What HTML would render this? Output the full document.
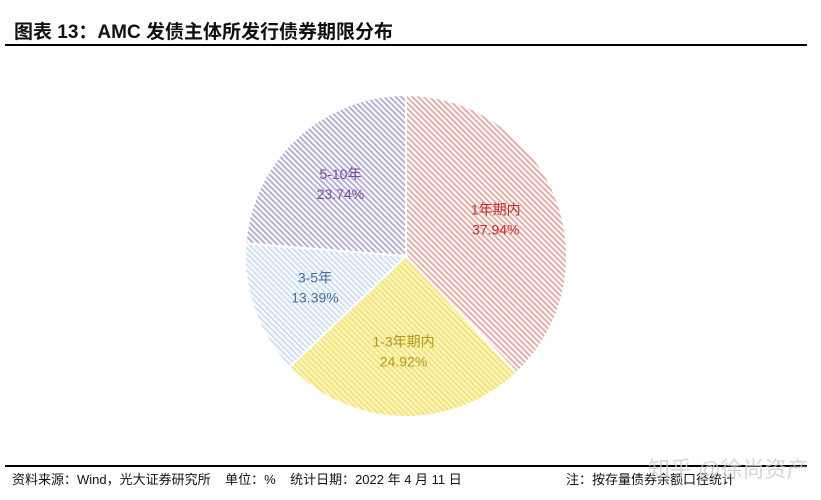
<!DOCTYPE html>
<html><head><meta charset="utf-8"><style>
body{margin:0;width:821px;height:500px;background:#fff;overflow:hidden;font-family:"Liberation Sans","Noto Sans CJK SC",sans-serif;}
#title{position:absolute;left:14px;top:17px;font-size:19px;font-weight:bold;color:#111;}
.rule{position:absolute;left:5px;width:802px;background:#000;}
#foot{position:absolute;left:12px;top:469px;font-size:13px;color:#111;white-space:pre;}
#note{position:absolute;left:566px;top:469px;font-size:13px;color:#111;}
#wm{position:absolute;left:648px;top:452px;font-size:22px;color:#ccc;opacity:.8;}
</style></head><body>
<div id="title">图表 13：AMC 发债主体所发行债券期限分布</div>
<div class="rule" style="top:44px;height:2px"></div>
<svg id="chart" width="821" height="500" style="position:absolute;left:0;top:0">
<defs>
<pattern id="p0" width="4" height="4" patternUnits="userSpaceOnUse" patternTransform="rotate(45)"><rect width="4" height="4" fill="#fdf5f4"/><rect width="4" height="1.6" fill="#dca7a2"/></pattern>
<pattern id="p1" width="4" height="4" patternUnits="userSpaceOnUse" patternTransform="rotate(45)"><rect width="4" height="4" fill="#fcf6c4"/><rect width="4" height="2" fill="#f2e47a"/></pattern>
<pattern id="p2" width="4" height="4" patternUnits="userSpaceOnUse" patternTransform="rotate(45)"><rect width="4" height="4" fill="#fafcff"/><rect width="4" height="1.6" fill="#c9dbf0"/></pattern>
<pattern id="p3" width="4" height="4" patternUnits="userSpaceOnUse" patternTransform="rotate(45)"><rect width="4" height="4" fill="#f8f7fb"/><rect width="4" height="1.6" fill="#aea7cb"/></pattern>
</defs>
<g id="slices"></g><g id="labels"></g>
</svg>
<div class="rule" style="top:465px;height:1.5px"></div>
<div id="foot">资料来源：Wind，光大证券研究所    单位：%    统计日期：2022 年 4 月 11 日</div>
<div id="note">注：按存量债券余额口径统计</div>
<div id="wm">知乎 @徐尚资产</div>
<script>
const categories=["1年期内","1-3年期内","3-5年","5-10年"];
const values=[37.94,24.92,13.39,23.74];
const labelColors=["#c0302a","#b8961c","#4a6aa0","#7a4aa8"];
const cx=406,cy=256,r=161;
const total=values.reduce((a,b)=>a+b,0);
const ns="http://www.w3.org/2000/svg";
const gS=document.getElementById('slices'),gL=document.getElementById('labels');
let a0=0;
function pt(a,rr){return [cx+rr*Math.sin(a),cy-rr*Math.cos(a)];}
values.forEach((v,i)=>{
  const a1=a0+v/total*2*Math.PI;
  const p0=pt(a0,r),p1=pt(a1,r),large=(a1-a0)>Math.PI?1:0;
  const path=document.createElementNS(ns,'path');
  path.setAttribute('d',`M${cx},${cy}L${p0[0]},${p0[1]}A${r},${r} 0 ${large} 1 ${p1[0]},${p1[1]}Z`);
  path.setAttribute('fill',`url(#p${i})`);
  path.setAttribute('stroke','#fff');
  path.setAttribute('stroke-width','2');
  
  
  gS.appendChild(path);
  const m=(a0+a1)/2,lp=pt(m,r*0.6);
  [categories[i],v.toFixed(2)+'%'].forEach((s,j)=>{
    const t=document.createElementNS(ns,'text');
    t.setAttribute('x',lp[0]);t.setAttribute('y',lp[1]+(j?14:-6));
    t.setAttribute('text-anchor','middle');t.setAttribute('font-size','14');
    t.setAttribute('fill',labelColors[i]);
    
    
    t.textContent=s;gL.appendChild(t);
  });
  a0=a1;
});
</script>
</body></html>
